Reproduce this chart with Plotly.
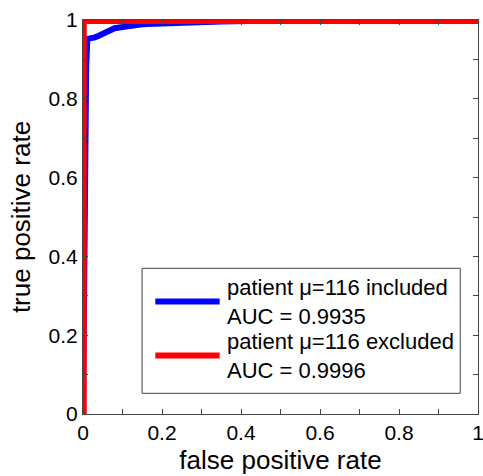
import plotly.graph_objects as go

# ROC data
fpr_incl = [0, 0.002, 0.004, 0.006, 0.008, 0.011, 0.02, 0.03, 0.04, 0.05, 0.065, 0.08,
            0.1, 0.115, 0.14, 0.16, 0.2, 0.25, 0.3, 0.35, 0.45, 1.0]
tpr_incl = [0, 0.3, 0.6, 0.8, 0.88, 0.952, 0.953, 0.956, 0.96, 0.965, 0.971, 0.979,
            0.982, 0.985, 0.988, 0.99, 0.992, 0.994, 0.995, 0.996, 0.998, 0.998]
fpr_excl = [0.003, 0.003, 1.0]
tpr_excl = [0, 0.996, 0.996]

label_incl = "patient \u03bc=116 included<br>AUC = 0.9935"
label_excl = "patient \u03bc=116 excluded<br>AUC = 0.9996"
x_ticks = [0, 0.2, 0.4, 0.6, 0.8, 1]
y_ticks = [0, 0.2, 0.4, 0.6, 0.8, 1]

W, H = 483, 476
L, R, T, B = 82.5, 4.5, 20, 62
FONT = "Liberation Sans, Arial, sans-serif"

fig = go.Figure()
fig.add_trace(go.Scatter(x=fpr_incl, y=tpr_incl, mode="lines",
                         line=dict(color="#0000ff", width=6), showlegend=False))
fig.add_trace(go.Scatter(x=fpr_excl, y=tpr_excl, mode="lines",
                         line=dict(color="#ff0000", width=5), showlegend=False))

axis_common = dict(
    range=[0, 1], showgrid=False, zeroline=False, showline=True, linecolor="#444",
    linewidth=1, mirror="ticks", ticks="inside", ticklen=5, tickcolor="#444",
    automargin=False, ticklabeloverflow="allow",
    tickfont=dict(family=FONT, size=21, color="black"),
    minor=dict(dtick=0.1, ticks="inside", ticklen=5, tickcolor="#444", showgrid=False),
)
fig.update_xaxes(**axis_common, tickvals=x_ticks, ticktext=[f"{v:g}" for v in x_ticks],
                 title=dict(text="false positive rate", standoff=7,
                            font=dict(family=FONT, size=26, color="black")))
fig.update_yaxes(**axis_common, tickvals=y_ticks, ticktext=[f"{v:g}" for v in y_ticks],
                 title=dict(text="true positive rate", standoff=10,
                            font=dict(family=FONT, size=26, color="black")))

# manual legend (paper coordinates)
pw, ph = W - L - R, H - T - B
def px(x):
    return (x - L) / pw
def py(y):
    return (H - B - y) / ph

fig.add_shape(type="rect", xref="paper", yref="paper",
              x0=px(141.7), x1=px(460.7), y0=py(393.3), y1=py(268.3),
              line=dict(color="#444", width=1), fillcolor="white", layer="above")
for yc, col, lab in [(301.5, "#0000ff", label_incl), (355.5, "#ff0000", label_excl)]:
    fig.add_shape(type="line", xref="paper", yref="paper",
                  x0=px(155), x1=px(219.5), y0=py(yc), y1=py(yc),
                  line=dict(color=col, width=6), layer="above")
    fig.add_annotation(xref="paper", yref="paper", x=px(225), y=py(yc),
                       xanchor="left", yanchor="middle", align="left", showarrow=False,
                       text=lab,
                       font=dict(family=FONT, size=22, color="black"))

fig.update_layout(width=W, height=H, margin=dict(l=L, r=R, t=T, b=B, autoexpand=False),
                  plot_bgcolor="white", paper_bgcolor="white", showlegend=False)
fig.write_html("out.html", config={"displayModeBar": False},
               post_script="document.body.style.margin='0';")
